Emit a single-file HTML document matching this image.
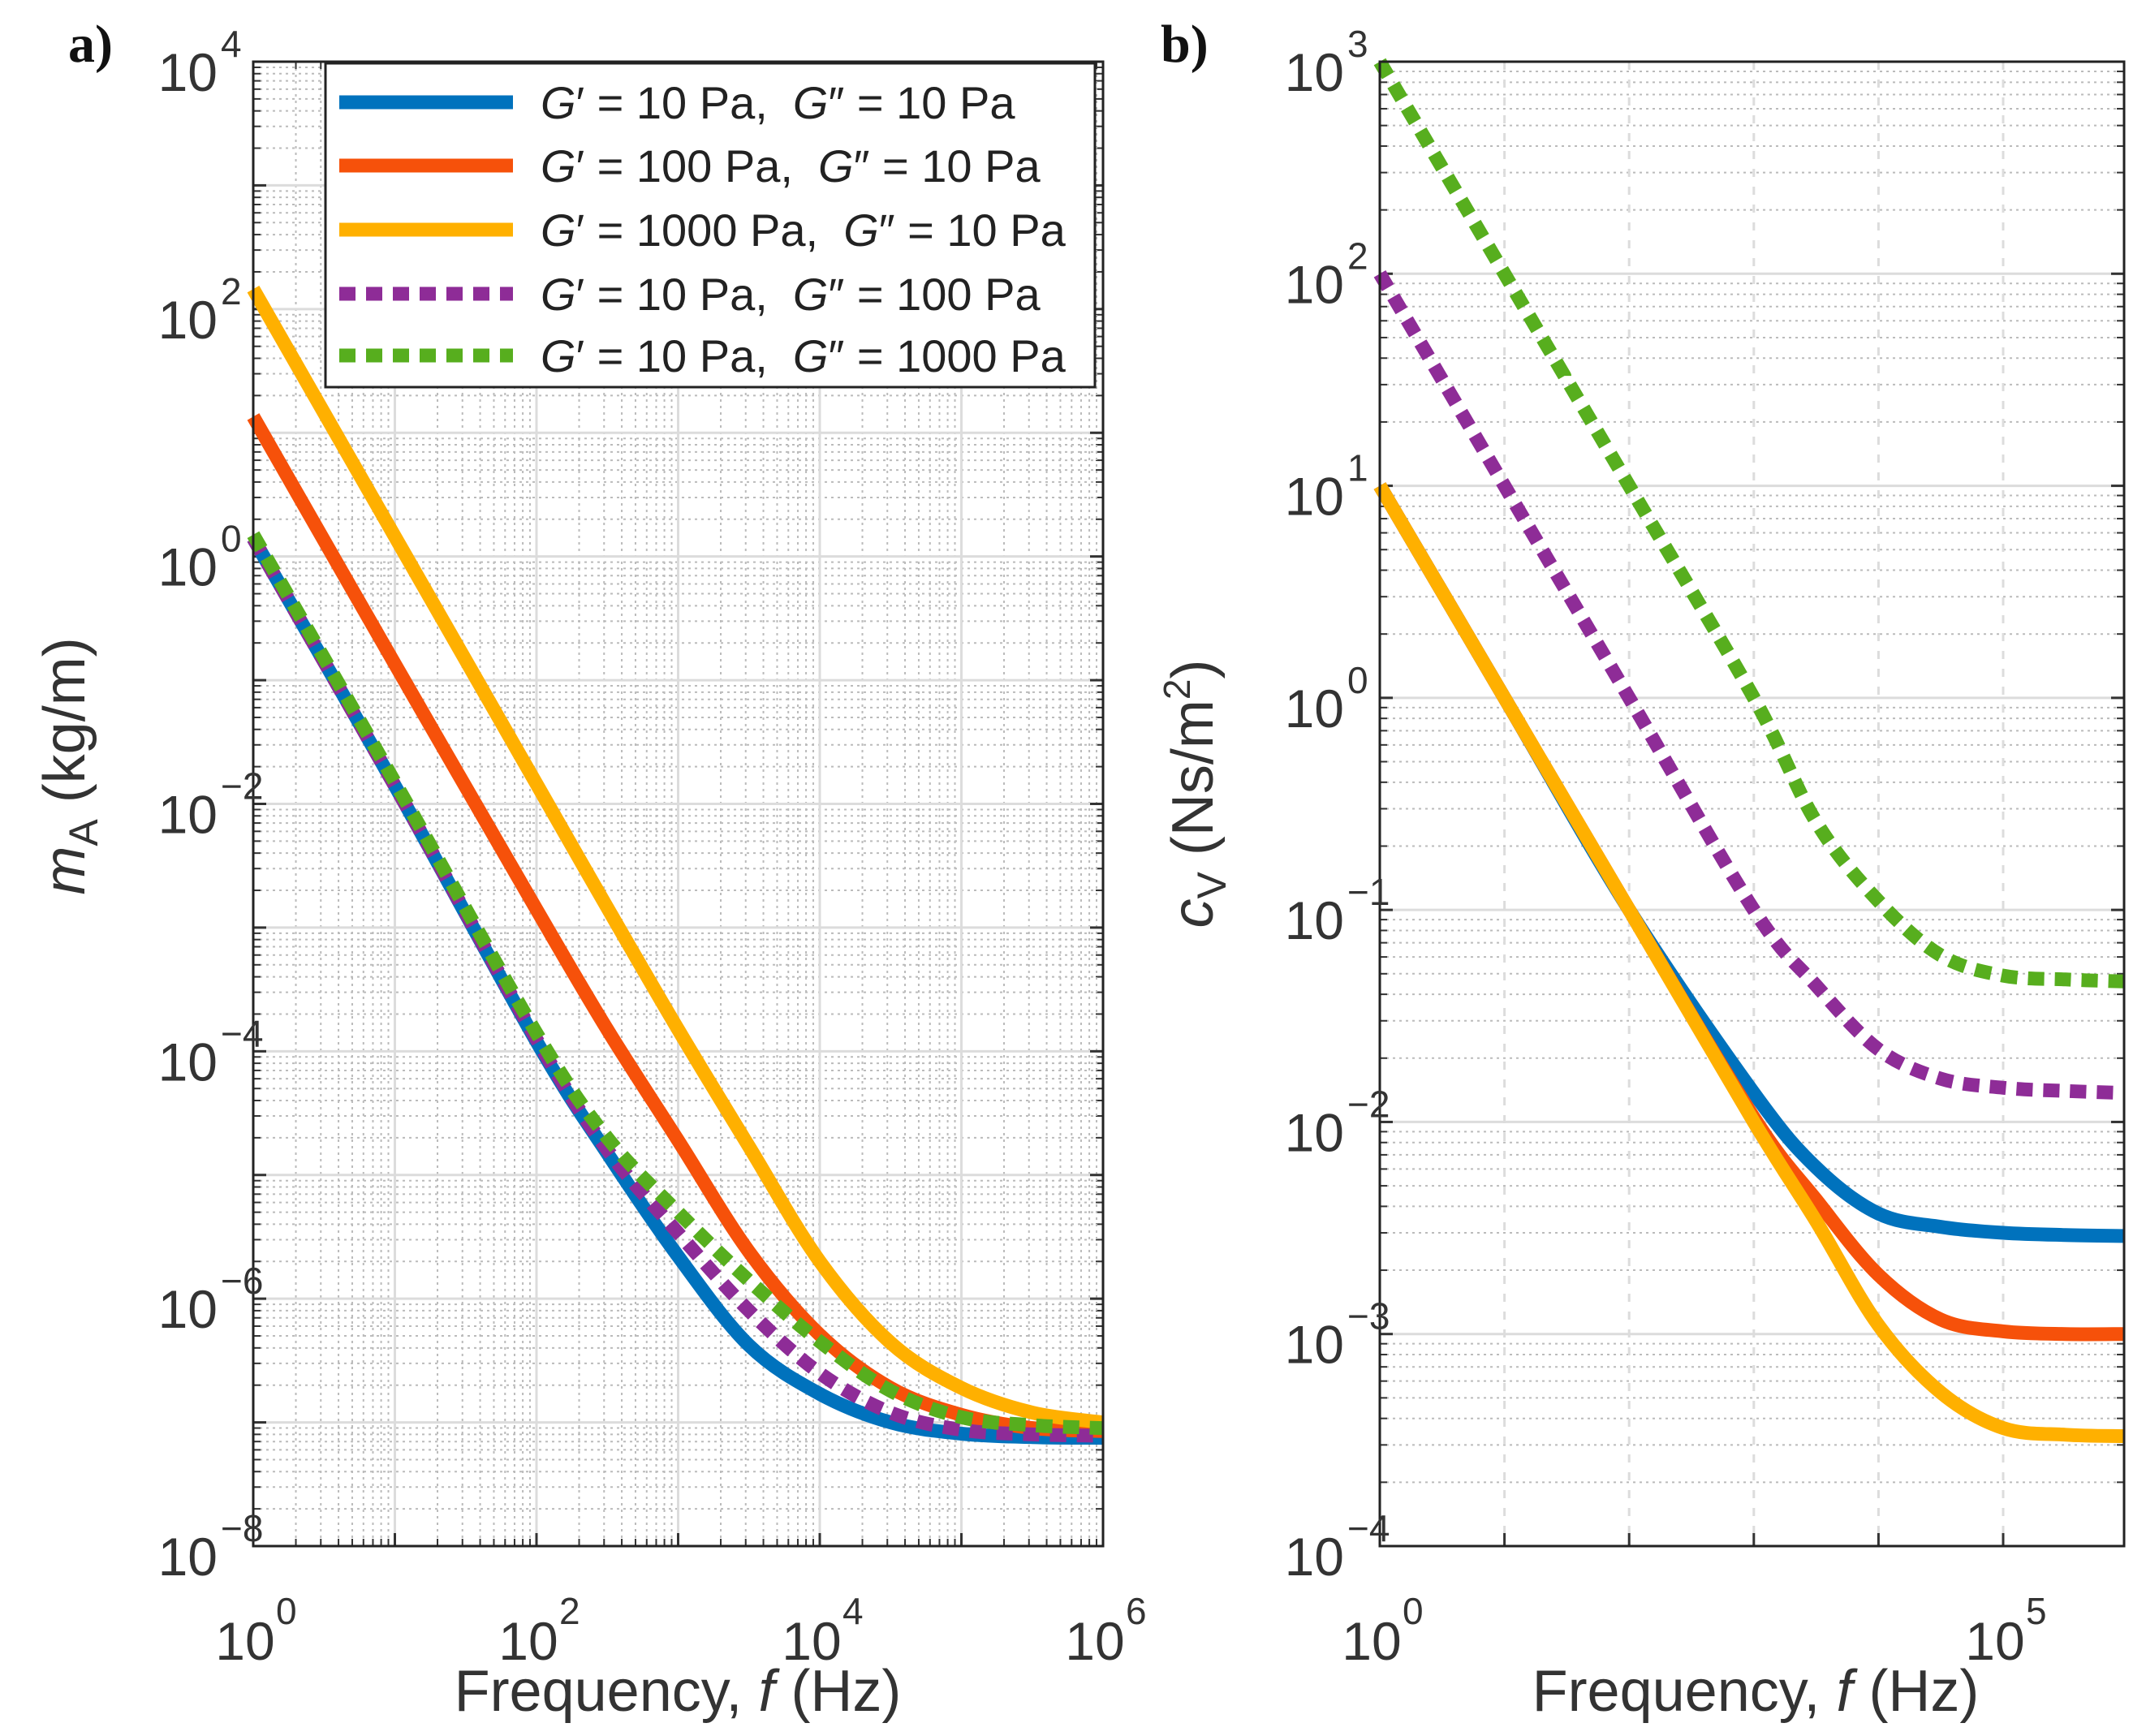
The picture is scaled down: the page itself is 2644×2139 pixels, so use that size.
<!DOCTYPE html>
<html><head><meta charset="utf-8"><style>
html,body{margin:0;padding:0;background:#fff;}
svg{display:block;font-family:"Liberation Sans",Arial,sans-serif;}
</style></head><body>
<svg id="fig" width="2644" height="2139" viewBox="0 0 2644 2139" xmlns="http://www.w3.org/2000/svg">
<g id="pa"></g>
<g id="pb"></g>
</svg>
<script>
// ---- data ----
const freqA = [1, 10, 100, 316, 1000, 3162, 10000, 31623, 100000, 316228, 1000000];
const mBlue   = [1.4, 0.014, 1.2e-4, 1.5e-5, 2.2e-6, 4.2e-7, 1.7e-7, 1.0e-7, 8.1e-8, 7.6e-8, 7.5e-8];
const mRed    = [13.5, 0.135, 1.4e-3, 1.5e-4, 1.9e-5, 2.4e-6, 5.1e-7, 1.9e-7, 1.15e-7, 9e-8, 8.5e-8];
const mYellow = [145, 1.45, 1.45e-2, 1.45e-3, 1.5e-4, 1.7e-5, 2e-6, 4.4e-7, 1.9e-7, 1.2e-7, 1e-7];
const mPurple = [1.4, 0.014, 1.25e-4, 1.6e-5, 3.4e-6, 8e-7, 2.5e-7, 1.2e-7, 8.7e-8, 8e-8, 7.8e-8];
const mGreen  = [1.5, 0.015, 1.4e-4, 2e-5, 5e-6, 1.4e-6, 4.5e-7, 1.8e-7, 1.1e-7, 9.5e-8, 9e-8];
const freqB = [1, 10, 100, 1000, 3162, 10000, 31623, 100000, 316228, 933000];
const cBlue   = [10, 1, 0.1, 0.0137, 6.1e-3, 3.7e-3, 3.2e-3, 3e-3, 2.93e-3, 2.9e-3];
const cRed    = [10, 1, 0.1, 0.0105, 4.3e-3, 1.9e-3, 1.17e-3, 1.03e-3, 1e-3, 1e-3];
const cYellow = [10, 1, 0.1, 0.01, 3.4e-3, 1.1e-3, 5.3e-4, 3.6e-4, 3.35e-4, 3.3e-4];
const cPurple = [100, 10, 1.0, 0.1, 0.044, 0.022, 0.016, 0.0145, 0.014, 0.0137];
const cGreen  = [1000, 100, 10, 1.0, 0.26, 0.11, 0.061, 0.049, 0.047, 0.046];
const legendLabels = ["G\u2032 = 10 Pa,  G\u2033 = 10 Pa","G\u2032 = 100 Pa,  G\u2033 = 10 Pa","G\u2032 = 1000 Pa,  G\u2033 = 10 Pa","G\u2032 = 10 Pa,  G\u2033 = 100 Pa","G\u2032 = 10 Pa,  G\u2033 = 1000 Pa"];
const xTicksA = [0,2,4,6];
const yTicksA = [-8,-6,-4,-2,0,2,4];
const xTicksB = [0,5];
const yTicksB = [-4,-3,-2,-1,0,1,2,3];

const NS="http://www.w3.org/2000/svg";
const COL={blue:"#0072BD",red:"#F6510A",yellow:"#FFB000",purple:"#8E2C97",green:"#57AE1E"};
function mk(parent,tag,attrs){const e=document.createElementNS(NS,tag);for(const k in attrs)e.setAttribute(k,attrs[k]);parent.appendChild(e);return e;}
function smooth(pts){
  let d="M"+pts[0][0].toFixed(1)+" "+pts[0][1].toFixed(1);
  for(let i=0;i<pts.length-1;i++){
    const p0=pts[Math.max(0,i-1)],p1=pts[i],p2=pts[i+1],p3=pts[Math.min(pts.length-1,i+2)];
    const c1=[p1[0]+(p2[0]-p0[0])/6,p1[1]+(p2[1]-p0[1])/6];
    const c2=[p2[0]-(p3[0]-p1[0])/6,p2[1]-(p3[1]-p1[1])/6];
    d+="C"+c1[0].toFixed(1)+" "+c1[1].toFixed(1)+" "+c2[0].toFixed(1)+" "+c2[1].toFixed(1)+" "+p2[0].toFixed(1)+" "+p2[1].toFixed(1);
  }
  return d;
}

function panel(g,o){
  const sx=v=>o.L+(Math.log10(v)-o.x0)/(o.x1-o.x0)*(o.R-o.L);
  const sy=v=>o.B-(Math.log10(v)-o.y0)/(o.y1-o.y0)*(o.B-o.T);
  mk(g,"rect",{x:o.L,y:o.T,width:o.R-o.L,height:o.B-o.T,fill:"#fff"});
  const grid=mk(g,"g",{});
  
  
  for(let d=Math.floor(o.y0);d<o.y1;d++)for(let k=2;k<10;k++){const y=sy(k*Math.pow(10,d));if(y<o.T)continue;
    mk(grid,"line",{x1:o.L,x2:o.R,y1:y,y2:y,stroke:"#bbb","stroke-width":2,"stroke-dasharray":"3 5"});
    mk(grid,"line",{x1:o.L,x2:o.L+9,y1:y,y2:y,stroke:"#333","stroke-width":2});
    mk(grid,"line",{x1:o.R,x2:o.R-9,y1:y,y2:y,stroke:"#333","stroke-width":2});}
  if(o.minorX){for(let d=Math.floor(o.x0);d<o.x1;d++)for(let k=2;k<10;k++){const x=sx(k*Math.pow(10,d));if(x>o.R)continue;
    mk(grid,"line",{x1:x,x2:x,y1:o.T,y2:o.B,stroke:"#bbb","stroke-width":2,"stroke-dasharray":"3 5"});
    mk(grid,"line",{x1:x,x2:x,y1:o.B,y2:o.B-9,stroke:"#333","stroke-width":2});
    mk(grid,"line",{x1:x,x2:x,y1:o.T,y2:o.T+9,stroke:"#333","stroke-width":2});}}
  for(let d=Math.ceil(o.y0);d<=o.y1;d++){const y=sy(Math.pow(10,d));
    mk(grid,"line",{x1:o.L,x2:o.R,y1:y,y2:y,stroke:"#dcdcdc","stroke-width":3});
    mk(grid,"line",{x1:o.L,x2:o.L+16,y1:y,y2:y,stroke:"#333","stroke-width":3});
    mk(grid,"line",{x1:o.R,x2:o.R-16,y1:y,y2:y,stroke:"#333","stroke-width":3});}
  for(let d=Math.ceil(o.x0);d<=o.x1;d++){const x=sx(Math.pow(10,d));
    mk(grid,"line",{x1:x,x2:x,y1:o.T,y2:o.B,stroke:"#dcdcdc","stroke-width":3,"stroke-dasharray":o.minorX?"none":"10 12"});
    mk(grid,"line",{x1:x,x2:x,y1:o.B,y2:o.B-16,stroke:"#333","stroke-width":3});}
  o.series.forEach(s=>{
    const pts=s.y.map((v,i)=>[sx(s.x[i]),sy(v)]);
    const p=mk(g,"path",{d:smooth(pts),fill:"none",stroke:s.c,"stroke-width":17,"stroke-linejoin":"round","stroke-dasharray":s.dot?"20 13":"none"});
    
    
  });
  const box=mk(g,"rect",{x:o.L,y:o.T,width:o.R-o.L,height:o.B-o.T,fill:"none",stroke:"#222","stroke-width":3});
  
  
  o.yt.forEach(d=>{const y=sy(Math.pow(10,d));
    const t=mk(g,"text",{x:o.L-44,y:y+36,"text-anchor":"end","font-size":66,fill:"#333"});
    
    
    t.textContent="10";
    const sup=mk(g,"text",{x:o.L-40,y:y-6,"text-anchor":"start","font-size":46,fill:"#333"});
    sup.textContent=(d<0?"\u2212"+(-d):""+d);
  });
  o.xt.forEach(d=>{const x=sx(Math.pow(10,d));
    const t=mk(g,"text",{x:x-10,y:o.B+140,"text-anchor":"middle","font-size":66,fill:"#333"});
    
    
    t.textContent="10";
    const sup=mk(g,"text",{x:x+28,y:o.B+96,"text-anchor":"start","font-size":46,fill:"#333"});
    sup.textContent=""+d;
  });
  return {sx,sy};
}

const pa=document.getElementById("pa"),pb=document.getElementById("pb");
panel(pa,{L:312,R:1359,T:76,B:1905,x0:0,x1:6,y0:-8,y1:4,minorX:true,xt:xTicksA,yt:yTicksA,series:[
 {x:freqA,y:mBlue,c:COL.blue,name:"series-a-g10-g10"},
 {x:freqA,y:mRed,c:COL.red,name:"series-a-g100-g10"},
 {x:freqA,y:mYellow,c:COL.yellow,name:"series-a-g1000-g10"},
 {x:freqA,y:mPurple,c:COL.purple,dot:true,name:"series-a-g10-g100"},
 {x:freqA,y:mGreen,c:COL.green,dot:true,name:"series-a-g10-g1000"}]});
panel(pb,{L:1700,R:2617,T:76,B:1905,x0:0,x1:5.97,y0:-4,y1:3,minorX:false,xt:xTicksB,yt:yTicksB,series:[
 {x:freqB,y:cBlue,c:COL.blue,name:"series-b-g10-g10"},
 {x:freqB,y:cRed,c:COL.red,name:"series-b-g100-g10"},
 {x:freqB,y:cYellow,c:COL.yellow,name:"series-b-g1000-g10"},
 {x:freqB,y:cPurple,c:COL.purple,dot:true,name:"series-b-g10-g100"},
 {x:freqB,y:cGreen,c:COL.green,dot:true,name:"series-b-g10-g1000"}]});

const lg=mk(pa,"g",{});


mk(lg,"rect",{x:401,y:78,width:948,height:399,fill:"#fff",stroke:"#222","stroke-width":3});
const lcols=[COL.blue,COL.red,COL.yellow,COL.purple,COL.green];
const lys=[126,204,283,362,438];
legendLabels.forEach((lab,i)=>{
  const e=mk(lg,"g",{});
  
  
  mk(e,"line",{x1:418,x2:632,y1:lys[i],y2:lys[i],stroke:lcols[i],"stroke-width":17,"stroke-dasharray":i>2?"20 13":"none"});
  const t=mk(e,"text",{x:666,y:lys[i]+20,"font-size":56,fill:"#222"});
  t.style.whiteSpace="pre";
  t.innerHTML=lab.replace(/G/g,'<tspan font-style="italic">G</tspan>');
});

function txt(parent,name,attrs,html){const t=mk(parent,"text",attrs);t.innerHTML=html;return t;}
const fig=document.getElementById("fig");
txt(fig,"panel-a-label",{x:84,y:76,"font-size":66,"font-weight":"bold","font-family":"Liberation Serif, serif",fill:"#111"},"a)");
txt(fig,"panel-b-label",{x:1430,y:76,"font-size":66,"font-weight":"bold","font-family":"Liberation Serif, serif",fill:"#111"},"b)");
txt(fig,"x-axis-title-a",{x:835,y:2108,"text-anchor":"middle","font-size":72,fill:"#333"},'Frequency, <tspan font-style="italic">f</tspan> (Hz)');
txt(fig,"x-axis-title-b",{x:2163,y:2108,"text-anchor":"middle","font-size":72,fill:"#333"},'Frequency, <tspan font-style="italic">f</tspan> (Hz)');
txt(fig,"y-axis-title-a",{x:0,y:0,transform:"translate(104,944) rotate(-90)","text-anchor":"middle","font-size":72,fill:"#333"},'<tspan font-style="italic">m</tspan><tspan font-size="50" dy="16">A</tspan><tspan dy="-16"> (kg/m)</tspan>');
txt(fig,"y-axis-title-b",{x:0,y:0,transform:"translate(1494,978) rotate(-90)","text-anchor":"middle","font-size":72,fill:"#333"},'<tspan font-style="italic">c</tspan><tspan font-size="50" dy="16">V</tspan><tspan dy="-16"> (Ns/m</tspan><tspan font-size="46" dy="-28">2</tspan><tspan dy="28">)</tspan>');
</script>
</body></html>
